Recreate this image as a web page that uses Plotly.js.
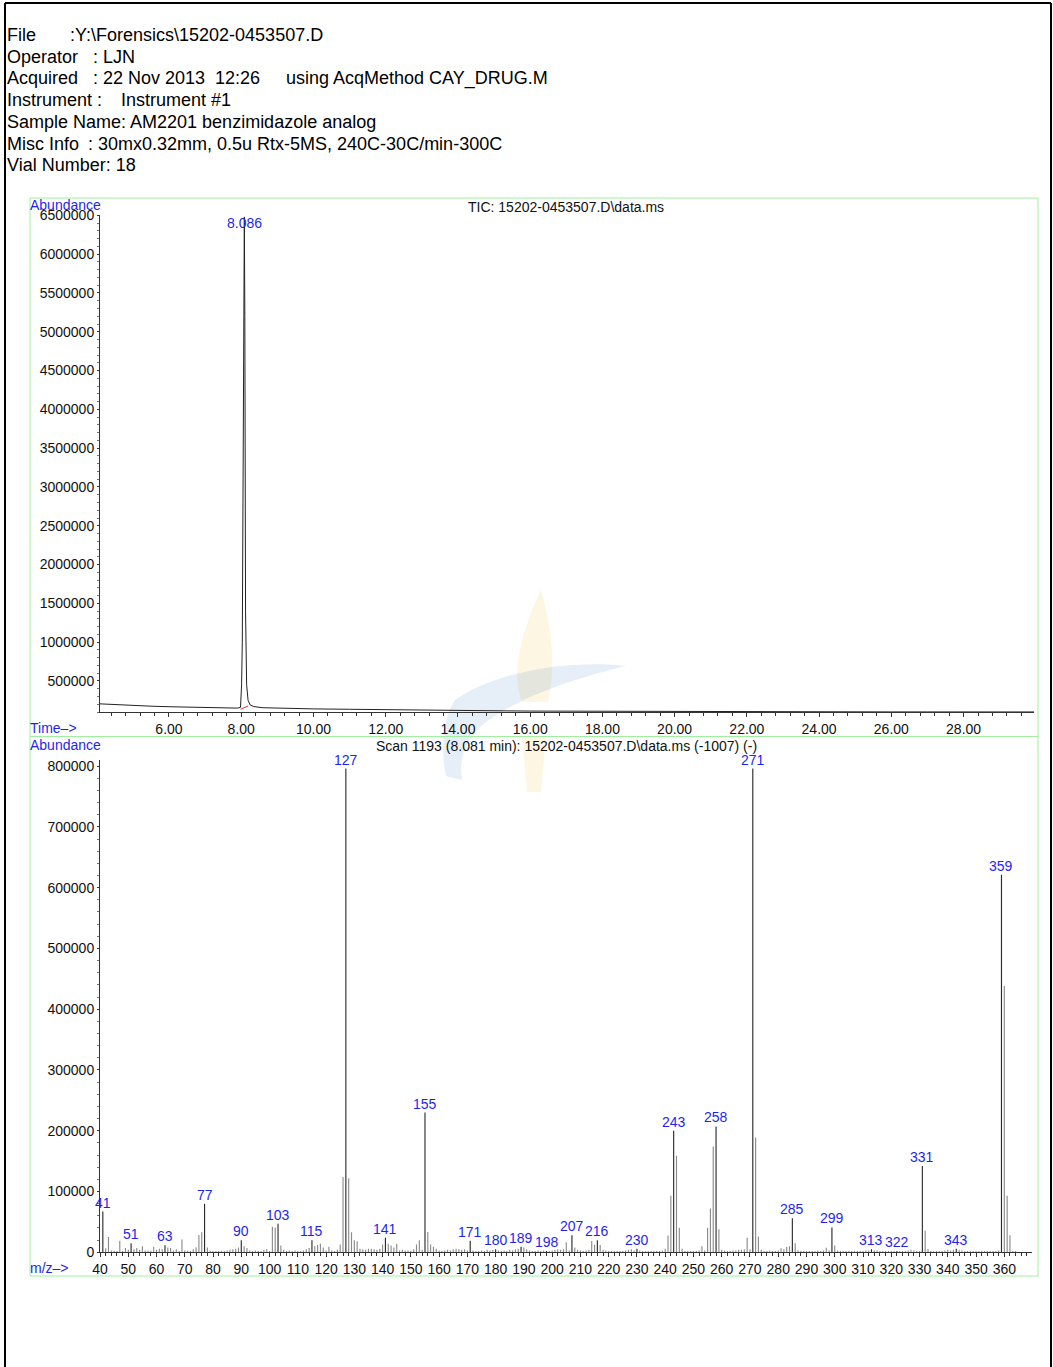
<!DOCTYPE html>
<html>
<head>
<meta charset="utf-8">
<script src="https://cdn.plot.ly/plotly-3.0.1.min.js"></script>
<style>
html,body{margin:0;padding:0;background:#fff;}
#chart{width:1053px;height:1367px;}
</style>
</head>
<body>
<div id="chart"></div>
<script>
// ---------- header text ----------
var headerLabels = ["File", "Operator", "Acquired", "Instrument :", "Sample Name: AM2201 benzimidazole analog", "Misc Info", "Vial Number: 18"];
var headerValues = [":Y:\\Forensics\\15202-0453507.D", ": LJN", ": 22 Nov 2013  12:26", "Instrument #1", "", ": 30mx0.32mm, 0.5u Rtx-5MS, 240C-30C/min-300C", ""];
var headerExtra = "using AcqMethod CAY_DRUG.M";

var ticTitle = "TIC: 15202-0453507.D\\data.ms";
var scanTitle = "Scan 1193 (8.081 min): 15202-0453507.D\\data.ms (-1007) (-)";

// ---------- TIC chromatogram ----------
var ticTime = [4.09, 4.5, 5.0, 5.5, 6.0, 6.5, 7.0, 7.5, 7.9, 7.98, 8.01, 8.03, 8.05, 8.07, 8.086, 8.10, 8.12, 8.15, 8.19, 8.25, 8.35, 8.6, 9.0, 10, 11, 12, 13, 14, 15, 16, 17, 18, 19, 20, 21, 22, 23, 24, 25, 26, 27, 28, 29, 30];
var ticAbund = [205000, 195000, 185000, 175000, 168000, 163000, 158000, 153000, 150000, 160000, 450000, 1000000, 3200000, 5600000, 6480000, 5200000, 1400000, 450000, 250000, 190000, 170000, 155000, 150000, 140000, 135000, 128000, 124000, 120000, 116000, 112000, 110000, 108000, 107000, 106000, 105000, 104000, 103000, 103000, 102000, 101000, 101000, 100500, 100500, 100500];
var ticPeakLabel = "8.086";
var baselineTime = [7.98, 8.19];
var baselineAbund = [135000, 178000];

// ---------- mass spectrum (one row per decade of m/z) ----------
var mz = [
  40,41,42,43,44,45,46,47,48,49,
  50,51,52,53,54,55,56,57,58,59,
  60,61,62,63,64,65,66,67,68,69,
  70,71,72,73,74,75,76,77,78,79,
  80,81,82,83,84,85,86,87,88,89,
  90,91,92,93,94,95,96,97,98,99,
  100,101,102,103,104,105,106,107,108,109,
  110,111,112,113,114,115,116,117,118,119,
  120,121,122,123,124,125,126,127,128,129,
  130,131,132,133,134,135,136,137,138,139,
  140,141,142,143,144,145,146,147,148,149,
  150,151,152,153,154,155,156,157,158,159,
  160,161,162,163,164,165,166,167,168,169,
  170,171,172,173,174,175,176,177,178,179,
  180,181,182,183,184,185,186,187,188,189,
  190,191,192,193,194,195,196,197,198,199,
  200,201,202,203,204,205,206,207,208,209,
  210,211,212,213,214,215,216,217,218,219,
  220,221,222,223,224,225,226,227,228,229,
  230,231,232,233,234,235,236,237,238,239,
  240,241,242,243,244,245,246,247,248,249,
  250,251,252,253,254,255,256,257,258,259,
  260,261,262,263,264,265,266,267,268,269,
  270,271,272,273,274,275,276,277,278,279,
  280,281,282,283,284,285,286,287,288,289,
  290,291,292,293,294,295,296,297,298,299,
  300,301,302,303,304,305,306,307,308,309,
  310,311,312,313,314,315,316,317,318,319,
  320,321,322,323,324,325,326,327,328,329,
  330,331,332,333,334,335,336,337,338,339,
  340,341,342,343,344,345,346,347,348,349,
  350,351,352,353,354,355,356,357,358,359,
  360,361,362,363,364
];
var abundance = [
  0, 67000, 6500, 25000, 3000, 2500, 2000, 19000, 2000, 7000,
  4000, 15000, 5000, 7000, 4000, 10000, 3000, 3000, 2500, 9000,
  4000, 6000, 5000, 11500, 8000, 7000, 3000, 5000, 2000, 21000,
  3000, 2500, 2000, 5000, 8500, 28500, 33000, 80000, 8000, 2500,
  2000, 2000, 2000, 2500, 2000, 3000, 4000, 5000, 6000, 8000,
  20000, 10000, 7000, 3000, 2000, 3000, 2000, 2000, 4000, 5000,
  2000, 42000, 41000, 47000, 11000, 4000, 2000, 3000, 2000, 3000,
  2000, 2000, 3000, 5000, 7000, 20000, 10000, 12000, 14000, 8000,
  3000, 9000, 3000, 2000, 4000, 13000, 124000, 796000, 122000, 33000,
  20000, 18000, 6000, 5000, 4000, 6000, 6000, 5000, 4000, 6000,
  13000, 24000, 14000, 11000, 8000, 14000, 3000, 4000, 3000, 3000,
  2500, 5000, 13000, 20000, 4000, 230000, 33500, 13000, 9000, 6000,
  3000, 2000, 3000, 4000, 3000, 5000, 6000, 5000, 4000, 5000,
  3000, 19000, 3000, 2000, 2000, 3000, 2000, 4000, 3000, 4000,
  5000, 3000, 2000, 3000, 2000, 4000, 3000, 5000, 6000, 9000,
  8000, 5000, 3000, 2000, 2000, 3000, 2000, 3000, 2000, 2000,
  3000, 4000, 5000, 4000, 5000, 16500, 3000, 28000, 8000, 4000,
  3000, 2000, 3000, 4000, 18500, 12500, 20000, 12000, 4000, 3000,
  2000, 2000, 2000, 2000, 2000, 2000, 3000, 4000, 5000, 3000,
  6000, 3000, 2000, 2000, 2000, 2000, 2000, 2000, 2000, 3000,
  6000, 27500, 93000, 200000, 159000, 40500, 6000, 2000, 2000, 2000,
  2000, 2000, 3000, 10000, 3000, 40500, 72000, 174000, 207000, 38000,
  4000, 3000, 2000, 2000, 3000, 3000, 4000, 4000, 5000, 24000,
  5000, 796000, 189000, 26000, 4000, 2000, 2000, 3000, 2000, 2000,
  3000, 6500, 5000, 9000, 10000, 56000, 15000, 3000, 2000, 2000,
  2000, 2000, 2000, 2000, 3000, 2000, 3000, 7500, 3000, 41000,
  11000, 3000, 2000, 2000, 2000, 2000, 2000, 2000, 2000, 2000,
  2000, 3000, 3000, 5000, 3000, 3000, 2000, 2000, 2000, 2000,
  2000, 2000, 2000, 2000, 2000, 2000, 3000, 4000, 3000, 2000,
  2000, 142000, 35500, 5500, 2000, 2000, 2000, 2000, 2000, 3000,
  4000, 3000, 4000, 6000, 4000, 3000, 2000, 2000, 2000, 2000,
  2000, 2000, 2000, 2000, 2000, 2000, 2000, 2000, 3000, 621000,
  438000, 93000, 28000, 2000, 2000
];
var labeledMz = [41,51,63,77,90,103,115,127,141,155,171,180,189,198,207,216,230,243,258,271,285,299,313,322,331,343,359];

// ---------- axis ticks ----------
var ticYTicks = [500000,1000000,1500000,2000000,2500000,3000000,3500000,4000000,4500000,5000000,5500000,6000000,6500000];
var msYTicks = [0,100000,200000,300000,400000,500000,600000,700000,800000];

// ---------- geometry helpers (page pixels -> paper) ----------
var W = 1053, H = 1367;
function px(x){ return x / W; }
function py(y){ return 1 - y / H; }
function pathPx(pts){
  return pts.replace(/(-?\d+(\.\d+)?)\s+(-?\d+(\.\d+)?)/g, function(m, a, b, c){
    return px(parseFloat(a)).toFixed(5) + ',' + py(parseFloat(c)).toFixed(5);
  });
}

var FONT = "Liberation Sans, Arial, sans-serif";
var BLUE = "#1f1ff0";
var AXC = "#333333";

// ---------- traces ----------
var ticTrace = {
  x: ticTime, y: ticAbund, type: "scatter", mode: "lines",
  line: {color: "#222", width: 1}, xaxis: "x", yaxis: "y", hoverinfo: "skip"
};
var baseTrace = {
  x: baselineTime, y: baselineAbund, type: "scatter", mode: "lines",
  line: {color: "#ff3030", width: 1}, xaxis: "x", yaxis: "y", hoverinfo: "skip"
};
var barColors = mz.map(function(m){ return labeledMz.indexOf(m) >= 0 ? "#2a2a2a" : "#8a8a8a"; });
var msTrace = {
  x: mz, y: abundance, type: "bar", width: 0.4,
  marker: {color: barColors, line: {width: 0}},
  xaxis: "x2", yaxis: "y2", hoverinfo: "skip"
};

// ---------- annotations ----------
var ann = [];
var rowY = [35, 56.7, 78.4, 100.1, 121.8, 143.5, 165.2];
var valueX = [68, 91, 91, 119, 0, 86, 0];
for (var i = 0; i < headerLabels.length; i++) {
  ann.push({xref:"paper", yref:"paper", x:px(5), y:py(rowY[i]), xanchor:"left", yanchor:"middle",
    text: headerLabels[i], showarrow:false, font:{family:FONT, size:18, color:"#000"}});
  if (headerValues[i]) {
    ann.push({xref:"paper", yref:"paper", x:px(valueX[i]), y:py(rowY[i]), xanchor:"left", yanchor:"middle",
      text: headerValues[i], showarrow:false, font:{family:FONT, size:18, color:"#000"}});
  }
}
ann.push({xref:"paper", yref:"paper", x:px(284), y:py(rowY[2]), xanchor:"left", yanchor:"middle",
  text: headerExtra, showarrow:false, font:{family:FONT, size:18, color:"#000"}});

function small(text, x, y, color, anchor){
  return {xref:"paper", yref:"paper", x:px(x), y:py(y), xanchor:anchor||"left", yanchor:"middle",
    text:text, showarrow:false, font:{family:FONT, size:14, color:color}};
}
ann.push(small("Abundance", 28, 205, BLUE));
ann.push(small(ticTitle, 566, 207, "#111", "center"));
ann.push(small("Time–>", 28, 728, BLUE));
ann.push(small("Abundance", 28, 745, BLUE));
ann.push(small(scanTitle, 566, 746, "#111", "center"));
ann.push(small("m/z–>", 28, 1268, BLUE));

// TIC peak label at the maximum
var maxI = 0;
for (var k = 1; k < ticAbund.length; k++) if (ticAbund[k] > ticAbund[maxI]) maxI = k;
ann.push({xref:"x", yref:"y", x:ticTime[maxI], y:ticAbund[maxI], xanchor:"center", yanchor:"middle", yshift:-6,
  text: ticPeakLabel, showarrow:false, font:{family:FONT, size:14, color:BLUE}});

// spectrum peak labels
labeledMz.forEach(function(m){
  var idx = mz.indexOf(m);
  ann.push({xref:"x2", yref:"y2", x:m, y:abundance[idx], xanchor:"center", yanchor:"bottom", yshift:-1,
    text:String(m), showarrow:false, font:{family:FONT, size:14, color:BLUE}});
});

// ---------- shapes ----------
var shapes = [
  {type:"line", xref:"paper", yref:"paper", x0:px(5), x1:px(5), y0:py(3), y1:py(1367), line:{color:"#000", width:2}},
  {type:"line", xref:"paper", yref:"paper", x0:px(5), x1:px(1051), y0:py(3), y1:py(3), line:{color:"#000", width:2}},
  {type:"line", xref:"paper", yref:"paper", x0:px(1051), x1:px(1051), y0:py(3), y1:py(1367), line:{color:"#000", width:2}},
  {type:"rect", xref:"paper", yref:"paper", x0:px(30), x1:px(1038), y0:py(198), y1:py(736.5), line:{color:"#9ef09e", width:1}},
  {type:"rect", xref:"paper", yref:"paper", x0:px(30), x1:px(1038), y0:py(736.5), y1:py(1276), line:{color:"#9ef09e", width:1}},
  {type:"path", xref:"paper", yref:"paper", layer:"below", opacity:0.16, fillcolor:"#f2c94c", line:{width:0},
    path: pathPx("M 541 590 C 522 630 510 672 522 702 L 548 702 C 556 668 552 628 541 590 Z")},
  {type:"path", xref:"paper", yref:"paper", layer:"below", opacity:0.16, fillcolor:"#f2c94c", line:{width:0},
    path: pathPx("M 522 738 L 546 738 L 541 792 L 527 792 Z")},
  {type:"path", xref:"paper", yref:"paper", layer:"below", opacity:0.14, fillcolor:"#4f86c6", line:{width:0},
    path: pathPx("M 455 700 C 500 668 580 660 626 666 C 585 676 528 692 486 722 C 466 738 458 758 462 780 L 446 776 C 440 748 444 716 455 700 Z")}
];

// ---------- layout ----------
var tickFont = {family:FONT, size:14, color:"#111"};
var layout = {
  width: W, height: H,
  margin: {l:0, r:0, t:0, b:0},
  paper_bgcolor: "#fff", plot_bgcolor: "rgba(0,0,0,0)",
  showlegend: false,
  font: {family: FONT},
  xaxis: {
    domain: [px(100), px(1034)], anchor: "y", range: [4.09, 29.95],
    showgrid: false, zeroline: false, showline: true, linecolor: AXC, linewidth: 1,
    ticks: "outside", ticklen: 4, tickcolor: AXC, tickmode: "linear", tick0: 0, dtick: 2,
    tickformat: ".2f", tickfont: tickFont,
    minor: {ticks: "outside", ticklen: 3, tickcolor: AXC, dtick: 0.4, tick0: 0}
  },
  yaxis: {
    domain: [py(712), py(215)], anchor: "x", range: [100000, 6505000],
    showgrid: false, zeroline: false, showline: true, linecolor: AXC, linewidth: 1,
    ticks: "outside", ticklen: 2, tickcolor: AXC, tickmode: "array", tickvals: ticYTicks,
    ticktext: ticYTicks.map(String), tickfont: tickFont,
    minor: {ticks: "outside", ticklen: 2, tickcolor: "#777", dtick: 100000, tick0: 0}
  },
  xaxis2: {
    domain: [px(100), px(1032)], anchor: "y2", range: [40, 369.8],
    showgrid: false, zeroline: false, showline: true, linecolor: AXC, linewidth: 1,
    ticks: "outside", ticklen: 4, tickcolor: AXC, tickmode: "linear", tick0: 0, dtick: 10,
    tickfont: tickFont,
    minor: {ticks: "outside", ticklen: 3, tickcolor: AXC, dtick: 2, tick0: 0}
  },
  yaxis2: {
    domain: [py(1252.3), py(760)], anchor: "x2", range: [0, 810000],
    showgrid: false, zeroline: false, showline: true, linecolor: AXC, linewidth: 1,
    ticks: "outside", ticklen: 2, tickcolor: AXC, tickmode: "array", tickvals: msYTicks,
    ticktext: msYTicks.map(String), tickfont: tickFont,
    minor: {ticks: "outside", ticklen: 2, tickcolor: "#777", dtick: 20000, tick0: 0}
  },
  annotations: ann,
  shapes: shapes
};

Plotly.newPlot("chart", [ticTrace, baseTrace, msTrace], layout, {staticPlot: true, displayModeBar: false});
</script>
</body>
</html>
